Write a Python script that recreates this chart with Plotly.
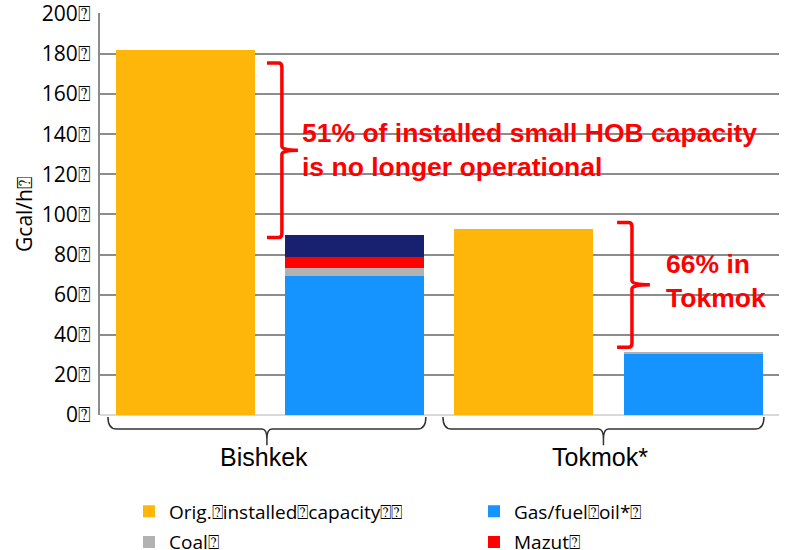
import plotly.graph_objects as go

# ---- data ----
orig_x = [0, 2]
orig_capacity = [182, 92.5]
now_x = [1, 3]
gas_fuel_oil = [69.3, 30.3]
coal = [4.0, 1.0]
mazut = [5.3, 0.0]
other = [11.0, 0.0]
cities = ["Bishkek", "Tokmok*"]
y_ticks = list(range(0, 201, 20))
Q = "\u2370"
y_ticktext = [f"{v}{Q}" for v in y_ticks]

ORANGE = "#ffb60a"
BLUE = "#1593ff"
GRAY = "#b2b2b2"
RED = "#ff0000"
NAVY = "#17216f"

BAR_W = 0.822
TICK_FONT = "Open Sans, Lato, sans-serif"

fig = go.Figure()
fig.add_trace(go.Bar(x=orig_x, y=orig_capacity, name=f"Orig.{Q}installed{Q}capacity{Q}{Q}",
                     legend="legend", legendgroup="a",
                     marker=dict(color=ORANGE, line=dict(width=0)), width=BAR_W))
fig.add_trace(go.Bar(x=now_x, y=gas_fuel_oil, name=f"Gas/fuel{Q}oil*{Q}",
                     legend="legend2", legendgroup="b",
                     marker=dict(color=BLUE, line=dict(width=0)), width=BAR_W))
fig.add_trace(go.Bar(x=now_x, y=coal, name=f"Coal{Q}",
                     legend="legend", legendgroup="c",
                     marker=dict(color=GRAY, line=dict(width=0)), width=BAR_W))
fig.add_trace(go.Bar(x=now_x, y=mazut, name=f"Mazut{Q}",
                     legend="legend2", legendgroup="d",
                     marker=dict(color=RED, line=dict(width=0)), width=BAR_W))
fig.add_trace(go.Bar(x=now_x, y=other, name="Other", showlegend=False,
                     marker=dict(color=NAVY, line=dict(width=0)), width=BAR_W))

legend_common = dict(orientation="v", yanchor="top", xanchor="left",
                     traceorder="grouped", tracegroupgap=3, maxheight=120,
                     font=dict(family=TICK_FONT, size=19, color="#000000"),
                     bgcolor="rgba(0,0,0,0)")

fig.update_layout(
    width=788, height=550,
    margin=dict(l=100, r=9, t=13, b=135, autoexpand=False),
    barmode="stack",
    paper_bgcolor="white", plot_bgcolor="white",
    font=dict(family=TICK_FONT, color="#000000"),
    showlegend=True,
    legend=dict(x=0.0427, y=-0.1925, **legend_common),
    legend2=dict(x=0.5508, y=-0.1925, **legend_common),
    xaxis=dict(range=[-0.505, 3.508], showticklabels=False, showgrid=False,
               zeroline=False, showline=False, ticks=""),
    yaxis=dict(range=[0, 200.4], tickmode="array", tickvals=y_ticks, ticktext=y_ticktext,
               showgrid=True, gridcolor="#8c8c8c", gridwidth=1.8,
               zeroline=True, zerolinecolor="#d9d9d9", zerolinewidth=2,
               showline=True, linecolor="#8c8c8c", linewidth=1.8,
               ticks="", ticklabelstandoff=3, ticklabeloverflow="allow",
               tickfont=dict(family=TICK_FONT, size=21, color="#000000"),
               title=dict(text=f"Gcal/h{Q}", standoff=4,
                          font=dict(family=TICK_FONT, size=21, color="#000000"))),
)

# group brackets under the axis
def group_bracket(x0, x1):
    xc = (x0 + x1) / 2
    return (f"M {x0},-0.005 Q {x0},-0.035 {x0+0.05},-0.035 L {xc-0.03},-0.035 "
            f"Q {xc},-0.035 {xc},-0.06 L {xc},-0.075 M {xc},-0.06 Q {xc},-0.035 {xc+0.03},-0.035 "
            f"L {x1-0.05},-0.035 Q {x1},-0.035 {x1},-0.005")

for (x0, x1), name in zip([(-0.458, 1.421), (1.522, 3.419)], cities):
    fig.add_shape(type="path", xref="x", yref="paper", path=group_bracket(x0, x1),
                  line=dict(color="#333333", width=1.5))
    fig.add_annotation(x=(x0 + x1) / 2 - 0.02, y=-0.104, xref="x", yref="paper", text=name,
                       showarrow=False, xanchor="center", yanchor="middle",
                       font=dict(family="Liberation Sans, Arial", size=25, color="#000000"))

# red curly brackets
def red_bracket(xh, xv, xt, ytop, ybot):
    ym = (ytop + ybot) / 2
    r = 2.0
    return (f"M {xh},{ytop} L {xv-0.02},{ytop} Q {xv},{ytop} {xv},{ytop-r} "
            f"L {xv},{ym+r} Q {xv},{ym} {xt},{ym} Q {xv},{ym} {xv},{ym-r} "
            f"L {xv},{ybot+r} Q {xv},{ybot} {xv-0.02},{ybot} L {xh},{ybot}")

fig.add_shape(type="path", xref="x", yref="y", path=red_bracket(0.482, 0.570, 0.665, 175.5, 88.5),
              line=dict(color=RED, width=3.5))
fig.add_shape(type="path", xref="x", yref="y", path=red_bracket(2.551, 2.639, 2.745, 96.0, 33.8),
              line=dict(color=RED, width=3.5))

fig.add_annotation(x=0.677, y=132.3, xref="x", yref="y",
                   text="<b>51% of installed small HOB capacity<br>is no longer operational</b>",
                   showarrow=False, xanchor="left", yanchor="middle", align="left",
                   font=dict(family="Liberation Sans, Arial", size=26.5, color=RED))
fig.add_annotation(x=2.83, y=66.7, xref="x", yref="y",
                   text="<b>66% in<br>Tokmok</b>",
                   showarrow=False, xanchor="left", yanchor="middle", align="left",
                   font=dict(family="Liberation Sans, Arial", size=26.5, color=RED))

fig.write_html("out.html", config={"displayModeBar": False},
               post_script="document.body.style.margin='0px';")
